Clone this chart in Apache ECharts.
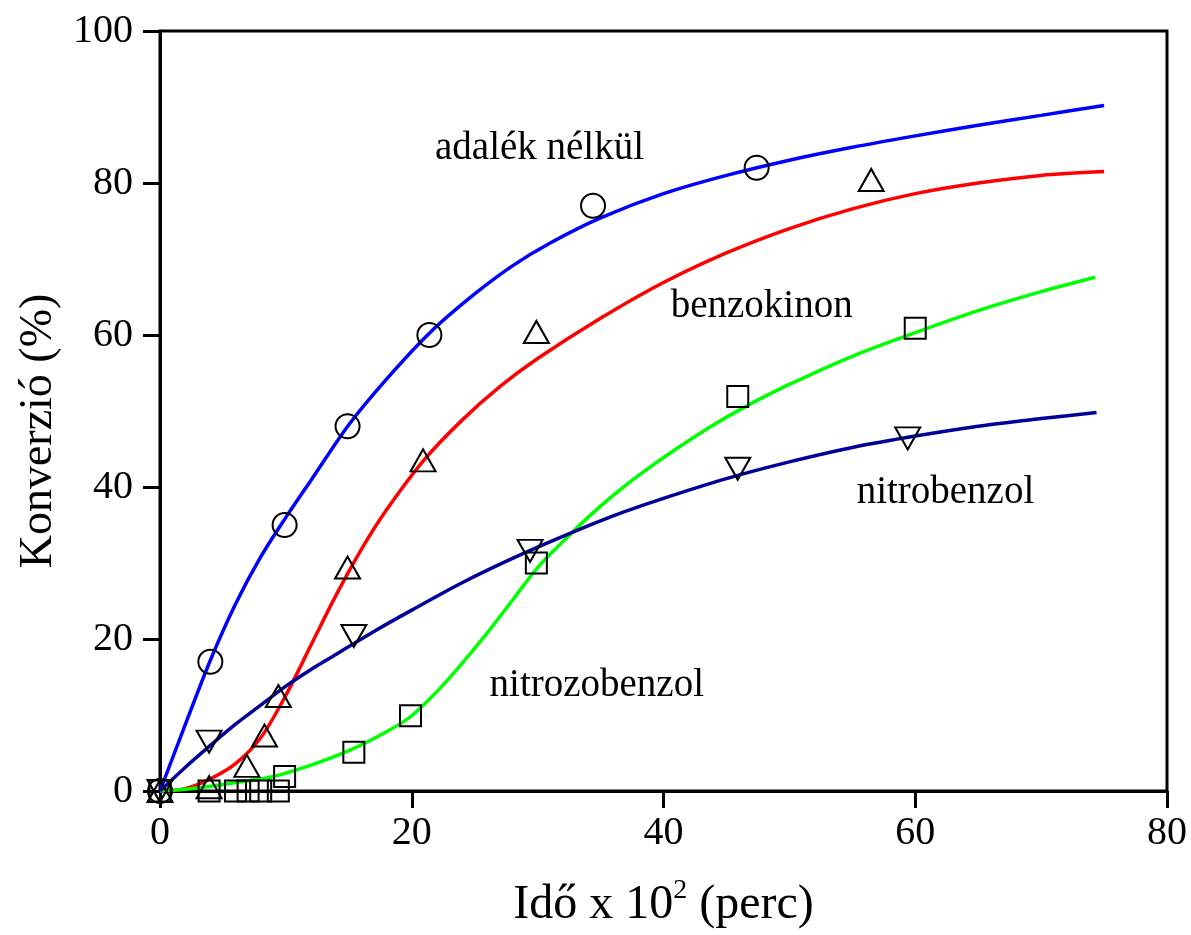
<!DOCTYPE html>
<html>
<head>
<meta charset="utf-8">
<script src="https://cdn.jsdelivr.net/npm/echarts@6/dist/echarts.min.js"></script>
<style>
  html, body { margin: 0; padding: 0; background: #fff; }
  #chart { width: 1191px; height: 935px; }
</style>
</head>
<body>
<div id="chart"></div>
<script>
// fitted curves
const curveBlue = [[0, 0], [2, 8.7], [4, 17.2], [6, 24.6], [8, 30.8], [10, 36], [12, 40.9], [15, 48.2],
  [18, 54.2], [21.5, 60.4], [25, 65.4], [28, 69.1], [31, 72.1], [35, 75.4], [40, 78.6], [45, 81], [50, 83],
  [55, 84.7], [60, 86.2], [65, 87.6], [70, 88.9], [75, 90.2]]
const curveRed = [[0, 0], [2, 0.3], [4, 1.6], [6, 3.6], [8, 7], [10, 12.6], [12, 19.2], [14, 25.8], [16, 31.8],
  [18, 37], [21, 43.6], [24, 48.8], [27, 53.2], [30, 56.9], [35, 62.2], [40, 66.9], [45, 70.8], [50, 74],
  [55, 76.6], [60, 78.6], [65, 80], [70, 81], [75, 81.5]]
const curveGreen = [[0, 0], [3, 0.4], [6, 1.1], [9, 1.9], [12, 3.4], [15, 5.3], [18, 7.8], [20, 9.9],
  [22.3, 13.6], [24, 16.8], [26, 20.8], [28, 25.1], [30, 29.4], [32, 32.8], [34, 36], [36, 38.9], [38, 41.5],
  [41, 45], [44, 48.2], [47, 51], [50, 53.5], [55, 57.2], [60, 60.3], [65, 63.2], [70, 65.7], [74.3, 67.6]]
const curveNavy = [[0, 0], [2, 3.1], [4, 6], [6, 8.8], [8, 11.3], [10, 13.8], [12, 16], [14, 18], [17, 21],
  [20, 23.8], [24, 27.4], [28, 30.6], [32, 33.5], [36, 36.2], [40, 38.5], [45, 41.1], [50, 43.3], [55, 45.2],
  [60, 46.7], [65, 48], [70, 49], [74.4, 49.8]]

// measured points
const ptsCircle = [[0, 0], [4, 17], [9.9, 35], [14.9, 48], [21.4, 60], [34.4, 77], [47.4, 82]]
const ptsTriUp = [[0, 0], [3.9, 0.5], [6.9, 3.3], [8.3, 7.3], [9.4, 12.5], [14.9, 29.4], [20.9, 43.5],
  [29.9, 60.4], [56.5, 80.4]]
const ptsSquare = [[0, 0], [3.9, 0], [6, 0], [7, 0], [8, 0], [9.4, 0], [9.9, 1.9], [15.4, 5.1], [19.9, 9.9],
  [29.9, 30], [45.9, 51.9], [60, 60.9]]
const ptsTriDown = [[0, 0], [3.9, 6.5], [15.4, 20.4], [29.4, 31.6], [45.9, 42.4], [59.4, 46.4]]

// curve labels: [x, y, text]
const curveLabels = [
  [30.15, 84.5, 'adalék nélkül'],
  [47.8, 63.7, 'benzokinon'],
  [62.4, 39.3, 'nitrobenzol'],
  [34.7, 13.9, 'nitrozobenzol']
]

const xTicks = { min: 0, max: 80, interval: 20 }
const yTicks = { min: 0, max: 100, interval: 20 }

const font = '"Liberation Serif", "Times New Roman", serif'

const lineSeries = (data, color) => ({
  type: 'line',
  data,
  smooth: 0.3,
  showSymbol: false,
  symbol: 'none',
  lineStyle: { color, width: 3.5 },
  z: 2
})

const markerSeries = (data, symbol, size, rotate) => ({
  type: 'scatter',
  data,
  symbol,
  symbolSize: size,
  symbolRotate: rotate || 0,
  itemStyle: { color: 'rgba(255,255,255,0)', borderColor: '#000', borderWidth: 2, opacity: 1 },
  z: 3
})

const chart = echarts.init(document.getElementById('chart'))

const option = {
  backgroundColor: '#fff',
  animation: false,
  grid: {
    left: 160, right: 24, top: 31, bottom: 144,
    show: true, borderColor: '#000', borderWidth: 3
  },
  xAxis: {
    type: 'value',
    min: xTicks.min, max: xTicks.max, interval: xTicks.interval,
    name: '{n|Idő x 10}{s|2}{n| (perc)}',
    nameLocation: 'middle',
    nameGap: 86,
    nameTextStyle: {
      rich: {
        n: { fontFamily: font, fontSize: 48, color: '#000', lineHeight: 56 },
        s: { fontFamily: font, fontSize: 28, color: '#000', verticalAlign: 'top', lineHeight: 30 }
      }
    },
    axisLine: { lineStyle: { color: '#000', width: 3 } },
    axisTick: { inside: false, length: 17, lineStyle: { color: '#000', width: 3 } },
    axisLabel: { fontFamily: font, fontSize: 40, color: '#000', margin: 22 },
    splitLine: { show: false }
  },
  yAxis: {
    type: 'value',
    min: yTicks.min, max: yTicks.max, interval: yTicks.interval,
    name: 'Konverzió (%)',
    nameLocation: 'middle',
    nameGap: 94,
    nameTextStyle: { fontFamily: font, fontSize: 46, color: '#000', padding: [0, 40, 0, 0] },
    axisLine: { lineStyle: { color: '#000', width: 3 } },
    axisTick: { inside: false, length: 17, lineStyle: { color: '#000', width: 3 } },
    axisLabel: { fontFamily: font, fontSize: 40, color: '#000', margin: 27 },
    splitLine: { show: false }
  },
  series: [
    lineSeries(curveBlue, '#0000ff'),
    lineSeries(curveRed, '#ff0000'),
    lineSeries(curveGreen, '#00ff00'),
    lineSeries(curveNavy, '#000099'),
    markerSeries(ptsCircle, 'circle', 24),
    markerSeries(ptsTriUp, 'triangle', [25, 22]),
    markerSeries(ptsSquare, 'rect', 21),
    markerSeries(ptsTriDown, 'triangle', [25, 22], 180),
    {
      type: 'scatter',
      data: curveLabels,
      symbolSize: 1,
      itemStyle: { color: 'rgba(255,255,255,0)', opacity: 1 },
      silent: true,
      label: {
        show: true,
        position: 'inside',
        formatter: p => p.data[2],
        fontFamily: font,
        fontSize: 39,
        color: '#000'
      },
      z: 4
    }
  ]
}

chart.setOption(option)
</script>
</body>
</html>
